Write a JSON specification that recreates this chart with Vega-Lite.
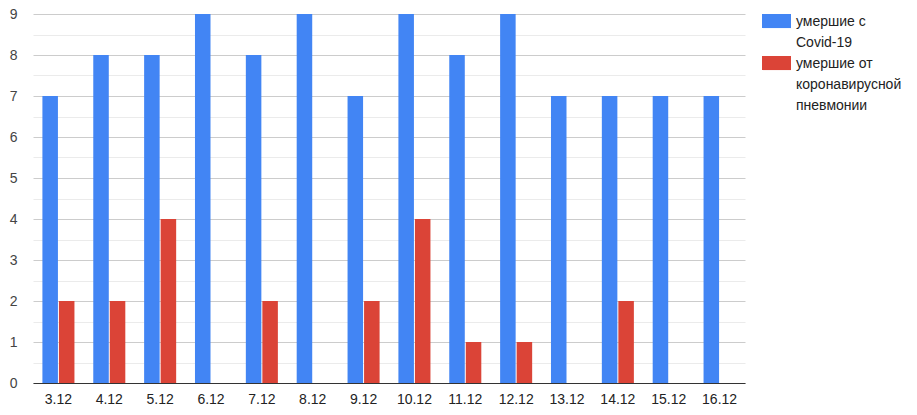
{
  "$schema": "https://vega.github.io/schema/vega-lite/v6.json",
  "width": 712,
  "height": 369,
  "autosize": "none",
  "padding": {"left": 33, "top": 14, "right": 172, "bottom": 32},
  "background": "#ffffff",
  "config": {"view": {"stroke": null}, "font": "Liberation Sans", "style": {"guide-label": {"lineHeight": 21}}},
  "data": {"values": [
    {"d": "3.12", "s": "умершие с Covid-19", "v": 7},
    {"d": "3.12", "s": "умершие от коронавирусной пневмонии", "v": 2},
    {"d": "4.12", "s": "умершие с Covid-19", "v": 8},
    {"d": "4.12", "s": "умершие от коронавирусной пневмонии", "v": 2},
    {"d": "5.12", "s": "умершие с Covid-19", "v": 8},
    {"d": "5.12", "s": "умершие от коронавирусной пневмонии", "v": 4},
    {"d": "6.12", "s": "умершие с Covid-19", "v": 9},
    {"d": "6.12", "s": "умершие от коронавирусной пневмонии", "v": 0},
    {"d": "7.12", "s": "умершие с Covid-19", "v": 8},
    {"d": "7.12", "s": "умершие от коронавирусной пневмонии", "v": 2},
    {"d": "8.12", "s": "умершие с Covid-19", "v": 9},
    {"d": "8.12", "s": "умершие от коронавирусной пневмонии", "v": 0},
    {"d": "9.12", "s": "умершие с Covid-19", "v": 7},
    {"d": "9.12", "s": "умершие от коронавирусной пневмонии", "v": 2},
    {"d": "10.12", "s": "умершие с Covid-19", "v": 9},
    {"d": "10.12", "s": "умершие от коронавирусной пневмонии", "v": 4},
    {"d": "11.12", "s": "умершие с Covid-19", "v": 8},
    {"d": "11.12", "s": "умершие от коронавирусной пневмонии", "v": 1},
    {"d": "12.12", "s": "умершие с Covid-19", "v": 9},
    {"d": "12.12", "s": "умершие от коронавирусной пневмонии", "v": 1},
    {"d": "13.12", "s": "умершие с Covid-19", "v": 7},
    {"d": "13.12", "s": "умершие от коронавирусной пневмонии", "v": 0},
    {"d": "14.12", "s": "умершие с Covid-19", "v": 7},
    {"d": "14.12", "s": "умершие от коронавирусной пневмонии", "v": 2},
    {"d": "15.12", "s": "умершие с Covid-19", "v": 7},
    {"d": "15.12", "s": "умершие от коронавирусной пневмонии", "v": 0},
    {"d": "16.12", "s": "умершие с Covid-19", "v": 7},
    {"d": "16.12", "s": "умершие от коронавирусной пневмонии", "v": 0}
  ]},
  "mark": {"type": "bar"},
  "encoding": {
    "x": {
      "field": "d", "type": "nominal", "sort": null,
      "scale": {"paddingInner": 0.37, "paddingOuter": 0.185},
      "axis": {"title": null, "labelAngle": 0, "ticks": false, "domainColor": "#333333", "domainWidth": 1, "grid": false, "labelFontSize": 14, "labelColor": "#222222", "labelPadding": 9}
    },
    "xOffset": {"field": "s", "type": "nominal", "sort": null, "scale": {"paddingInner": 0.06}},
    "y": {
      "field": "v", "type": "quantitative",
      "scale": {"domain": [0, 9], "nice": false},
      "axis": {
        "title": null,
        "values": [0, 0.5, 1, 1.5, 2, 2.5, 3, 3.5, 4, 4.5, 5, 5.5, 6, 6.5, 7, 7.5, 8, 8.5, 9],
        "labelExpr": "datum.value % 1 === 0 ? format(datum.value, 'd') : ''",
        "ticks": false, "domain": false,
        "gridColor": {"condition": {"test": "datum.value % 1 !== 0", "value": "#ebebeb"}, "value": "#cccccc"},
        "labelFontSize": 14, "labelColor": "#444444", "labelPadding": 16, "labelAlign": "right"
      }
    },
    "color": {
      "field": "s", "type": "nominal", "sort": null,
      "scale": {"range": ["#4285F4", "#DB4437"]},
      "legend": {
        "title": null, "orient": "right", "offset": 17,
        "symbolType": "M-1,-1H1V-0.03H-1Z", "symbolSize": 841, "symbolStrokeWidth": 0, "symbolOpacity": 1,
        "labelFontSize": 14, "labelColor": "#222222", "labelLimit": 200,
        "labelExpr": "datum.label == 'умершие с Covid-19' ? ['умершие с', 'Covid-19'] : ['умершие от', 'коронавирусной', 'пневмонии']",
        "labelBaseline": "bottom", "labelOffset": 5, "rowPadding": 6, "labelFontWeight": "normal"
      }
    }
  }
}
